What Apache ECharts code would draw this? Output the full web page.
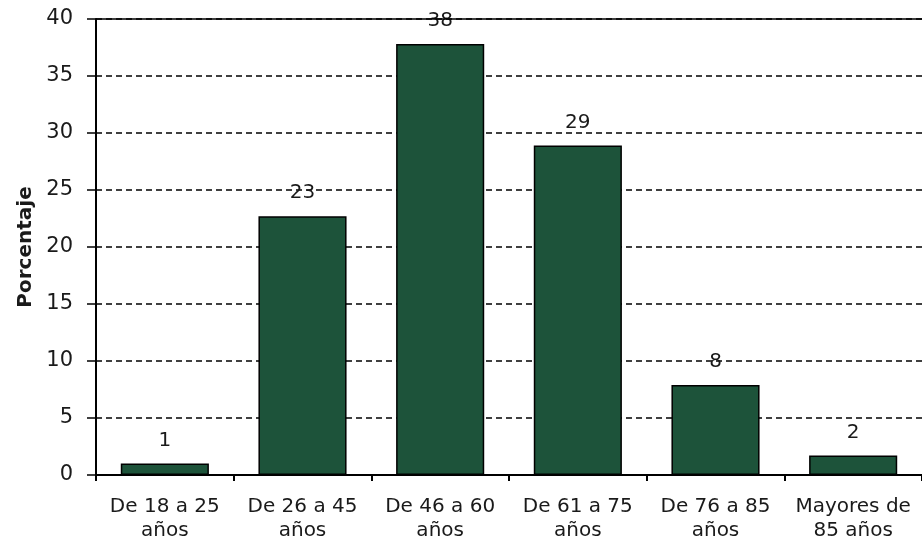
<!DOCTYPE html>
<html>
<head>
<meta charset="utf-8">
<script src="https://cdn.jsdelivr.net/npm/echarts@6/dist/echarts.min.js"></script>
<style>
  html, body { margin: 0; padding: 0; background: #fff; }
  #chart { width: 922px; height: 543px; }
</style>
</head>
<body>
<div id="chart"></div>
<script>
// Age groups and their share (%)
const categories = ['De 18 a 25\naños', 'De 26 a 45\naños', 'De 46 a 60\naños', 'De 61 a 75\naños', 'De 76 a 85\naños', 'Mayores de\n85 años'];
const values = [1.0, 22.7, 37.8, 28.9, 7.9, 1.7];
const yTicks = { min: 0, max: 40, interval: 5 };

const FONT = 'DejaVu Sans';
const TEXT = '#1a1a1a';
const chart = echarts.init(document.getElementById('chart'));
chart.setOption({
  animation: false,
  textStyle: { fontFamily: FONT },
  grid: { left: 96, right: 0, top: 19, bottom: 68, containLabel: false },
  xAxis: {
    type: 'category',
    data: categories,
    axisLine: { lineStyle: { color: '#000', width: 2 } },
    axisTick: { show: true, length: 6, lineStyle: { color: '#000', width: 2 } },
    axisLabel: { interval: 0, color: TEXT, fontSize: 20, lineHeight: 24, margin: 20, fontFamily: FONT }
  },
  yAxis: {
    type: 'value',
    min: yTicks.min, max: yTicks.max, interval: yTicks.interval,
    name: 'Porcentaje',
    nameLocation: 'middle',
    nameGap: 60,
    nameTextStyle: { fontWeight: 'bold', fontSize: 20, color: TEXT, fontFamily: FONT },
    axisLine: { show: true, lineStyle: { color: '#000', width: 2 } },
    axisTick: { show: true, length: 9, lineStyle: { color: '#000', width: 1.5 } },
    axisLabel: { color: TEXT, fontSize: 21, margin: 23, fontFamily: FONT },
    splitLine: {
      show: true,
      lineStyle: { color: '#000', width: 1.5, type: [6, 4] }
    }
  },
  series: [{
    type: 'bar',
    data: values,
    barWidth: '64%',
    itemStyle: { color: '#1d533a', borderColor: '#000', borderWidth: 1.5 },
    label: {
      show: true,
      position: 'top',
      distance: 13,
      color: TEXT,
      fontSize: 20,
      fontFamily: FONT,
      formatter: p => Math.round(p.value)
    },
    markLine: {
      silent: true,
      symbol: 'none',
      label: { show: false },
      lineStyle: { color: '#000', width: 1.5, type: 'solid' },
      data: [{ yAxis: yTicks.max }]
    }
  }]
});
</script>
</body>
</html>
